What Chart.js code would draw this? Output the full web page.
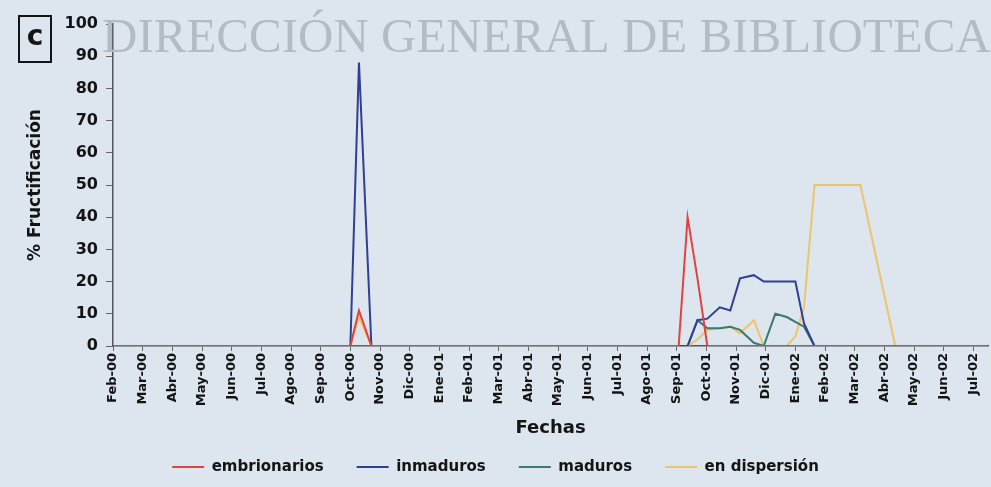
<!DOCTYPE html>
<html>
<head>
<meta charset="utf-8">
<script src="https://cdn.jsdelivr.net/npm/chart.js@4.4.1/dist/chart.umd.min.js"></script>
<style>
  html, body { margin: 0; padding: 0; background: #dde5ee; }
  #wrap { width: 991px; height: 487px; }
</style>
</head>
<body>
<div id="wrap"><canvas id="fructificacion" width="991" height="487"></canvas></div>
<script>
// meses del eje (una marca por mes)
const meses = ['Feb-00', 'Mar-00', 'Abr-00', 'May-00', 'Jun-00', 'Jul-00', 'Ago-00', 'Sep-00',
  'Oct-00', 'Nov-00', 'Dic-00', 'Ene-01', 'Feb-01', 'Mar-01', 'Abr-01', 'May-01', 'Jun-01',
  'Jul-01', 'Ago-01', 'Sep-01', 'Oct-01', 'Nov-01', 'Dic-01', 'Ene-02', 'Feb-02', 'Mar-02',
  'Abr-02', 'May-02', 'Jun-02', 'Jul-02'];

// fechas de muestreo
const fechasMuestreo = ['2000-02-01', '2000-10-01', '2000-10-10', '2000-10-23',
  '2001-09-03', '2001-09-12', '2001-09-22', '2001-10-02', '2001-10-15', '2001-10-26',
  '2001-11-05', '2001-11-19', '2001-11-29', '2001-12-11', '2001-12-23', '2002-01-01',
  '2002-01-10', '2002-01-21', '2002-02-07', '2002-02-21', '2002-03-07', '2002-04-12',
  '2002-07-15'];

// % de fructificacion por estado del fruto
const embrionarios = [0, 0, 11, 0, 0, 40, 21, 0, 0, 0, 0, 0, 0, 0, 0, 0, 0, 0, 0, 0, 0, 0, 0];
const inmaduros = [0, 0, 88, 0, 0, 0, 8, 8.5, 12, 11, 21, 22, 20, 20, 20, 20, 7, 0, 0, 0, 0, 0, 0];
const maduros = [0, 0, 0, 0, 0, 0, 8, 5.5, 5.5, 6, 5, 1, 0, 10, 9, 7.5, 6, 0, 0, 0, 0, 0, 0];
const enDispersion = [0, 0, 9, 0, 0, 0, 2, 5, 5.5, 6, 4, 8, 0, 0, 0, 3, 12, 50, 50, 50, 50, 0, 0];

// posicion de la fecha en meses desde Feb-00
function mesIndice(fecha) {
  const [a, m, d] = fecha.split('-').map(Number);
  const dias = new Date(a, m, 0).getDate();
  return (a - 2000) * 12 + (m - 2) + (d - 1) / dias;
}
const xs = fechasMuestreo.map(mesIndice);
const puntos = vals => vals.map((v, i) => ({ x: xs[i], y: v }));

const fuente = 'DejaVu Sans';
const negro = '#141414';

// fondo, marca de agua y recuadro "c"
const decorado = {
  id: 'decorado',
  beforeDraw(chart) {
    const ctx = chart.ctx;
    ctx.save();
    ctx.fillStyle = '#dde5ee';
    ctx.fillRect(0, 0, chart.width, chart.height);
    ctx.restore();
  },
  beforeDatasetsDraw(chart) {
    const ctx = chart.ctx;
    ctx.save();
    ctx.fillStyle = '#b3bcc6';
    ctx.font = '49px "Liberation Serif"';
    ctx.textBaseline = 'alphabetic';
    ctx.fillText('DIRECCIÓN GENERAL DE BIBLIOTECA', 102, 52);
    ctx.restore();
  },
  afterDraw(chart) {
    const ctx = chart.ctx;
    ctx.save();
    ctx.strokeStyle = negro;
    ctx.lineWidth = 2;
    ctx.strokeRect(19, 16, 32, 46);
    ctx.fillStyle = negro;
    ctx.font = 'bold 28px "DejaVu Sans"';
    ctx.textAlign = 'center';
    ctx.textBaseline = 'middle';
    ctx.fillText('c', 35, 38);
    ctx.restore();
  }
};

const serie = (label, vals, color) => ({
  label,
  data: puntos(vals),
  borderColor: color,
  backgroundColor: color,
  borderWidth: 2,
  pointRadius: 0,
  tension: 0
});

new Chart(document.getElementById('fructificacion'), {
  type: 'line',
  data: {
    datasets: [
      serie('embrionarios', embrionarios, '#e2423f'),
      serie('inmaduros', inmaduros, '#2f3f94'),
      serie('maduros', maduros, '#3c7a6c'),
      serie('en dispersión', enDispersion, '#ecc46c')
    ]
  },
  options: {
    responsive: false,
    animation: false,
    devicePixelRatio: 1,
    layout: { padding: { left: 0, right: 0, top: 24, bottom: 2.5 } },
    plugins: {
      tooltip: { enabled: false },
      legend: {
        position: 'bottom',
        labels: {
          usePointStyle: true,
          pointStyle: 'line',
          pointStyleWidth: 32,
          padding: 33,
          color: negro,
          font: { family: fuente, weight: 'bold', size: 15 }
        }
      }
    },
    scales: {
      x: {
        type: 'linear',
        min: 0,
        max: 29.5,
        afterBuildTicks: s => { s.ticks = meses.map((_, i) => ({ value: i })); },
        afterFit: s => { s.height = 80.5; },
        ticks: {
          autoSkip: false,
          minRotation: 90,
          maxRotation: 90,
          padding: 2,
          color: negro,
          font: { family: fuente, weight: 'bold', size: 13 },
          callback: v => meses[v]
        },
        grid: { drawOnChartArea: false, tickLength: 5, color: '#666' },
        border: { color: '#555', width: 1.5 },
        title: {
          display: true,
          text: 'Fechas',
          color: negro,
          font: { family: fuente, weight: 'bold', size: 18 },
          padding: { top: 0, bottom: -13 }
        }
      },
      y: {
        min: 0,
        max: 100,
        afterFit: s => { s.width = 113; },
        ticks: {
          stepSize: 10,
          padding: 8,
          color: negro,
          font: { family: fuente, weight: 'bold', size: 16 }
        },
        grid: { drawOnChartArea: false, tickLength: 7, color: '#666' },
        border: { color: '#555', width: 1.5 },
        title: {
          display: true,
          text: '% Fructificación',
          color: negro,
          font: { family: fuente, weight: 'bold', size: 17 },
          padding: { top: 25, bottom: 0 }
        }
      }
    }
  },
  plugins: [decorado]
});
</script>
</body>
</html>
